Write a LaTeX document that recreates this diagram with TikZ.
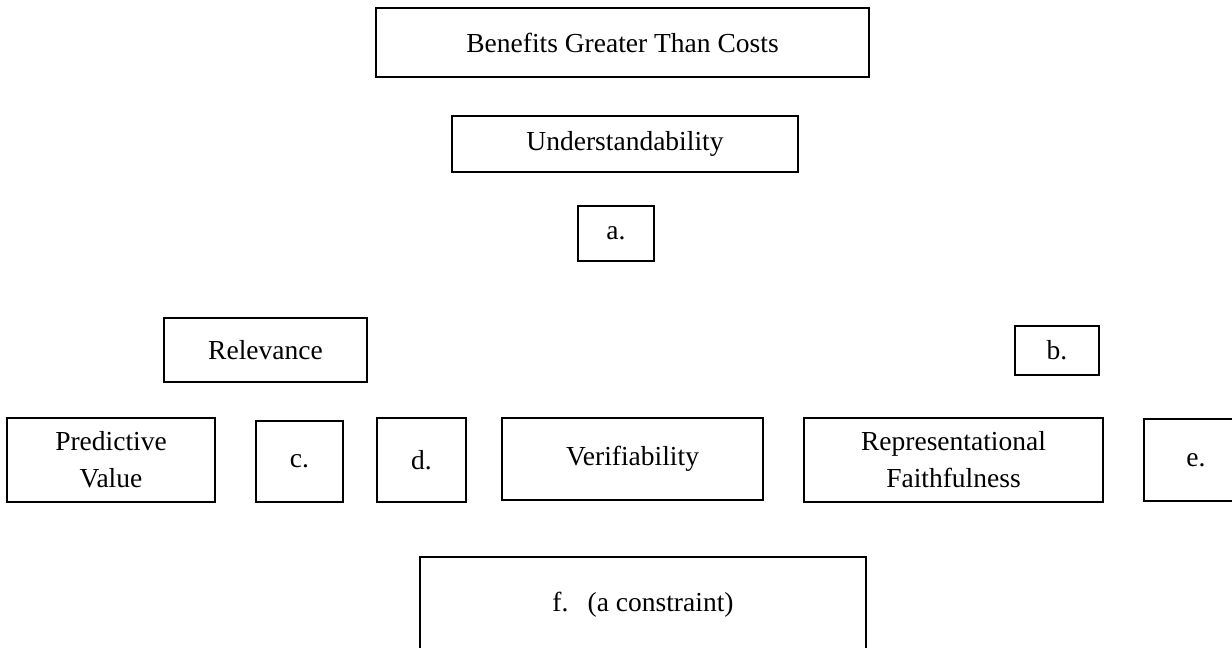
\documentclass[tikz,border=0pt]{standalone}
\usepackage{fontspec}
\setmainfont{Liberation Serif}
\begin{document}
\begin{tikzpicture}[x=1pt,y=-1pt,
  bx/.style={draw=black,line width=2.2pt,inner sep=0pt,align=center,
    font=\fontsize{27.5}{37}\selectfont,text=black,fill=white}]
\useasboundingbox[fill=white] (0,0) rectangle (1232,648);
\node[bx,minimum width=493,minimum height=69] (benefits) at (622.5,42.5) {Benefits Greater Than Costs};
\node[bx,minimum width=346,minimum height=56] (under) at (625,144) {Understandability};
\node[bx,minimum width=76,minimum height=55] (a) at (616,233.5) {a.};
\node[bx,minimum width=203,minimum height=64] (rel) at (265.5,350) {Relevance};
\node[bx,minimum width=84,minimum height=49] (b) at (1057,350.5) {b.};
\node[bx,minimum width=208,minimum height=84] (pv) at (111,460) {Predictive\\Value};
\node[bx,minimum width=87,minimum height=81] (c) at (299.5,461.5) {c.};
\node[bx,minimum width=89,minimum height=84] (d) at (421.5,460) {d.};
\node[bx,minimum width=261,minimum height=82] (ver) at (632.5,459) {Verifiability};
\node[bx,minimum width=299,minimum height=84] (rf) at (953.5,460) {Representational\\Faithfulness};
\node[bx,minimum width=104,minimum height=82] (e) at (1196,460) {e.};
\node[bx,minimum width=446,minimum height=96] (f) at (643,605) {f.\hspace{0.7em}(a constraint)};
\end{tikzpicture}
\end{document}
